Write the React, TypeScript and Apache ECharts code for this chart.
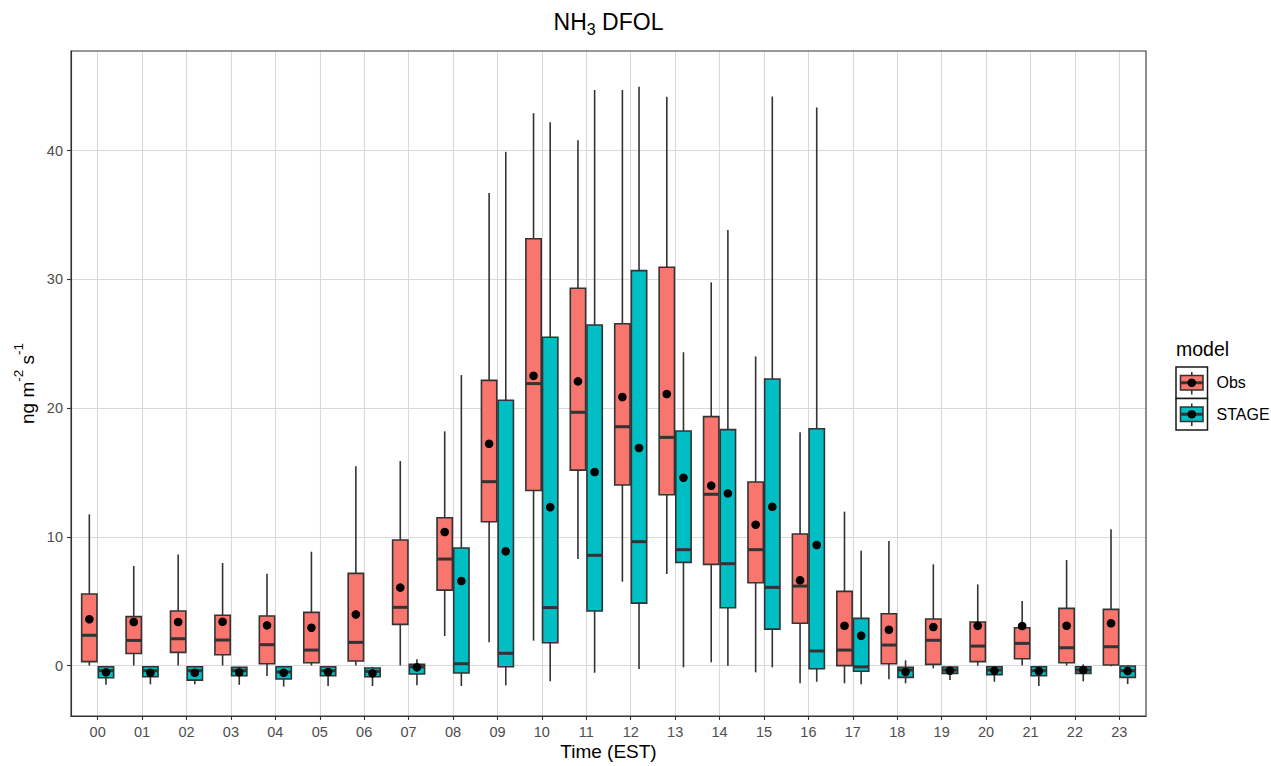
import React, { useEffect, useRef } from "react";
import * as echarts from "echarts";

const hours = ["00","01","02","03","04","05","06","07","08","09","10","11","12","13","14","15","16","17","18","19","20","21","22","23"];
const yTicks = [0, 10, 20, 30, 40];

// Obs box statistics
const obsLow    = [0.0, 0.0, 0.0, 0.0, -0.82, 0.0, 0.0, 0.0, 2.29, 1.8, 1.93, 8.27, 6.51, 7.11, 0.25, -0.53, -1.38, -1.38, -1.07, -0.22, -0.01, 0.0, 0.0, -0.05];
const obsQ1     = [0.3, 0.94, 1.02, 0.84, 0.14, 0.22, 0.35, 3.2, 5.86, 11.17, 13.6, 15.18, 14.02, 13.27, 7.86, 6.43, 3.28, -0.01, 0.14, 0.09, 0.3, 0.53, 0.22, 0.04];
const obsMedian = [2.35, 1.95, 2.08, 1.98, 1.62, 1.2, 1.8, 4.52, 8.27, 14.28, 21.9, 19.67, 18.55, 17.72, 13.3, 9.0, 6.17, 1.2, 1.59, 1.96, 1.51, 1.72, 1.38, 1.46];
const obsQ3     = [5.55, 3.8, 4.23, 3.9, 3.85, 4.13, 7.16, 9.75, 11.48, 22.15, 33.15, 29.3, 26.55, 30.93, 19.33, 14.25, 10.21, 5.76, 4.02, 3.61, 3.38, 2.94, 4.44, 4.36];
const obsHigh   = [11.74, 7.73, 8.63, 7.96, 7.13, 8.84, 15.47, 15.88, 18.19, 36.7, 42.9, 40.8, 44.7, 44.18, 29.76, 24.01, 18.11, 11.95, 9.67, 7.86, 6.3, 5.01, 8.19, 10.58];
const obsMean   = [3.6, 3.38, 3.38, 3.4, 3.12, 2.94, 3.97, 6.05, 10.37, 17.22, 22.5, 22.07, 20.85, 21.09, 13.97, 10.94, 6.62, 3.09, 2.78, 2.99, 3.09, 3.07, 3.09, 3.28];

// STAGE box statistics
const stageLow    = [-1.5, -1.46, -1.46, -1.5, -1.64, -1.59, -1.59, -1.54, -1.59, -1.54, -1.23, -0.56, -0.27, -0.14, -0.01, -0.14, -1.26, -1.46, -1.38, -1.13, -1.26, -1.59, -1.23, -1.44];
const stageQ1     = [-0.95, -0.87, -1.13, -0.79, -1.05, -0.79, -0.87, -0.66, -0.58, -0.09, 1.77, 4.23, 4.85, 8.01, 4.49, 2.83, -0.25, -0.45, -0.92, -0.61, -0.71, -0.79, -0.61, -0.92];
const stageMedian = [-0.4, -0.4, -0.4, -0.4, -0.5, -0.4, -0.45, -0.1, 0.14, 0.95, 4.5, 8.56, 9.62, 9.0, 7.91, 6.07, 1.13, -0.1, -0.35, -0.35, -0.35, -0.4, -0.35, -0.4];
const stageQ3     = [-0.09, -0.09, -0.09, -0.14, -0.09, -0.09, -0.19, 0.09, 9.13, 20.6, 25.5, 26.45, 30.67, 18.21, 18.32, 22.25, 18.39, 3.66, -0.14, -0.12, -0.09, -0.09, -0.09, -0.04];
const stageHigh   = [-0.05, -0.05, -0.05, -0.1, -0.05, -0.05, -0.1, 0.48, 22.56, 39.9, 42.2, 44.7, 44.96, 24.33, 33.83, 44.2, 43.35, 8.92, 0.4, -0.1, -0.05, -0.05, 0.09, 0.0];
const stageMean   = [-0.53, -0.56, -0.56, -0.53, -0.56, -0.5, -0.61, -0.14, 6.56, 8.87, 12.3, 15.03, 16.9, 14.59, 13.37, 12.33, 9.36, 2.32, -0.5, -0.4, -0.4, -0.43, -0.35, -0.43];

const OBS_COLOR = "#F8766D";
const STAGE_COLOR = "#00BFC4";
const FONT = '"Liberation Sans", Arial, Helvetica, sans-serif';

const obsData = hours.map((_, i) => [i, obsLow[i], obsQ1[i], obsMedian[i], obsQ3[i], obsHigh[i], obsMean[i]]);
const stageData = hours.map((_, i) => [i, stageLow[i], stageQ1[i], stageMedian[i], stageQ3[i], stageHigh[i], stageMean[i]]);
const xTickIdx = hours.map((_, i) => i);

function makeRender(sign: number, fill: string) {
  return (params: any, api: any) => {
    const x = api.value(0);
    const band = api.size([1, 0])[0];
    const off = sign * band * 0.1875;
    const w = band * 0.345;
    const pLow = api.coord([x, api.value(1)]);
    const pQ1 = api.coord([x, api.value(2)]);
    const pMed = api.coord([x, api.value(3)]);
    const pQ3 = api.coord([x, api.value(4)]);
    const pHigh = api.coord([x, api.value(5)]);
    const pMean = api.coord([x, api.value(6)]);
    const cx = pLow[0] + off;
    const stroke = "#333333";
    return {
      type: "group",
      children: [
        { type: "line", shape: { x1: cx, y1: pHigh[1], x2: cx, y2: pQ3[1] }, style: { stroke, lineWidth: 1.6 } },
        { type: "line", shape: { x1: cx, y1: pQ1[1], x2: cx, y2: pLow[1] }, style: { stroke, lineWidth: 1.6 } },
        { type: "rect", shape: { x: cx - w / 2, y: pQ3[1], width: w, height: Math.max(pQ1[1] - pQ3[1], 0.5) }, style: { fill, stroke, lineWidth: 1.6 } },
        { type: "line", shape: { x1: cx - w / 2, y1: pMed[1], x2: cx + w / 2, y2: pMed[1] }, style: { stroke, lineWidth: 3 } },
        { type: "circle", shape: { cx, cy: pMean[1], r: 4.3 }, style: { fill: "#000000" } },
      ],
    };
  };
}

function legendKey(y0: number, fill: string) {
  const kx = 1176, size = 31.5;
  const cx = kx + size / 2, cy = y0 + size / 2;
  return [
    { type: "rect", shape: { x: kx, y: y0, width: size, height: size }, style: { fill: "#ffffff", stroke: "#1a1a1a", lineWidth: 1.5 } },
    { type: "line", shape: { x1: cx, y1: y0 + 5, x2: cx, y2: y0 + size - 4 }, style: { stroke: "#333333", lineWidth: 1.6 } },
    { type: "rect", shape: { x: kx + 4.5, y: cy - 7.2, width: size - 9, height: 14.4 }, style: { fill, stroke: "#333333", lineWidth: 1.6 } },
    { type: "line", shape: { x1: kx + 4.5, y1: cy, x2: kx + size - 4.5, y2: cy }, style: { stroke: "#333333", lineWidth: 3 } },
    { type: "circle", shape: { cx, cy, r: 4.3 }, style: { fill: "#000000" } },
  ];
}

export default function App() {
  const ref = useRef<HTMLDivElement>(null);
  useEffect(() => {
    if (!ref.current) return;
    const chart = echarts.init(ref.current, null, { renderer: "svg" });
    const option: any = {
      animation: false,
      backgroundColor: "#ffffff",
      grid: { left: 71, top: 51, width: 1075, height: 665, show: false },
      xAxis: {
        type: "value",
        min: -0.6,
        max: 23.6,
        splitNumber: 24,
        minInterval: 1,
        maxInterval: 1,
        axisLine: { show: true, onZero: false, lineStyle: { color: "#333333", width: 1.1 } },
        axisTick: { show: true, length: 4, lineStyle: { color: "#333333", width: 1.1 }, customValues: xTickIdx },
        axisLabel: {
          customValues: xTickIdx,
          formatter: (v: number) => (Number.isInteger(v) && hours[v] !== undefined ? hours[v] : ""),
          color: "#4d4d4d",
          fontSize: 14.5,
          margin: 8,
          fontFamily: FONT,
        },
        splitLine: { show: true, lineStyle: { color: "#d9d9d9", width: 1.1 } },
      },
      yAxis: {
        type: "value",
        min: -3.92,
        max: 47.73,
        splitNumber: 5,
        minInterval: 10,
        maxInterval: 10,
        axisLine: { show: true, onZero: false, lineStyle: { color: "#333333", width: 1.1 } },
        axisTick: { show: true, length: 4, lineStyle: { color: "#333333", width: 1.1 }, customValues: yTicks },
        axisLabel: { customValues: yTicks, color: "#4d4d4d", fontSize: 14.5, margin: 8, fontFamily: FONT },
        splitLine: { show: true, lineStyle: { color: "#d9d9d9", width: 1.1 } },
      },
      series: [
        {
          name: "Obs",
          type: "custom",
          data: obsData,
          encode: { x: 0, y: [1, 2, 3, 4, 5, 6] },
          renderItem: makeRender(-1, OBS_COLOR),
          z: 5,
        },
        {
          name: "STAGE",
          type: "custom",
          data: stageData,
          encode: { x: 0, y: [1, 2, 3, 4, 5, 6] },
          renderItem: makeRender(1, STAGE_COLOR),
          z: 5,
        },
      ],
      graphic: [
        { type: "rect", z: 100, silent: true, shape: { x: 71, y: 51, width: 1075, height: 665 }, style: { fill: "none", stroke: "#333333", lineWidth: 1.1 } },
        {
          type: "text",
          x: 608.5,
          y: 24,
          style: {
            text: "{a|NH}{b|3}{a| DFOL}",
            align: "center",
            verticalAlign: "middle",
            fontFamily: FONT,
            rich: {
              a: { fontSize: 23, fontFamily: FONT, fill: "#000000", lineHeight: 27, verticalAlign: "top" },
              b: { fontSize: 16, fontFamily: FONT, fill: "#000000", lineHeight: 16, verticalAlign: "bottom" },
            },
          },
        },
        {
          type: "text",
          x: 608.5,
          y: 751.5,
          style: { text: "Time (EST)", align: "center", verticalAlign: "middle", fontSize: 19, fontFamily: FONT, fill: "#000000" },
        },
        {
          type: "text",
          x: 24,
          y: 383.5,
          rotation: Math.PI / 2,
          style: {
            text: "{a|ng m}{s|-2}{a| s}{s|-1}",
            align: "center",
            verticalAlign: "middle",
            fontFamily: FONT,
            rich: {
              a: { fontSize: 19, fontFamily: FONT, fill: "#000000", lineHeight: 26, verticalAlign: "bottom" },
              s: { fontSize: 13.5, fontFamily: FONT, fill: "#000000", lineHeight: 14, verticalAlign: "top" },
            },
          },
        },
        { type: "text", x: 1176, y: 349, style: { text: "model", align: "left", verticalAlign: "middle", fontSize: 19.5, fontFamily: FONT, fill: "#000000" } },
        ...legendKey(367, OBS_COLOR),
        ...legendKey(398.5, STAGE_COLOR),
        { type: "text", x: 1216.5, y: 382.7, style: { text: "Obs", align: "left", verticalAlign: "middle", fontSize: 16, fontFamily: FONT, fill: "#000000" } },
        { type: "text", x: 1216.5, y: 414.3, style: { text: "STAGE", align: "left", verticalAlign: "middle", fontSize: 16, fontFamily: FONT, fill: "#000000" } },
      ],
    };
    chart.setOption(option);
    return () => chart.dispose();
  }, []);
  return (
    <div
      ref={ref}
      style={{ position: "fixed", left: 0, top: 0, width: 1271, height: 766, background: "#ffffff" }}
    />
  );
}
